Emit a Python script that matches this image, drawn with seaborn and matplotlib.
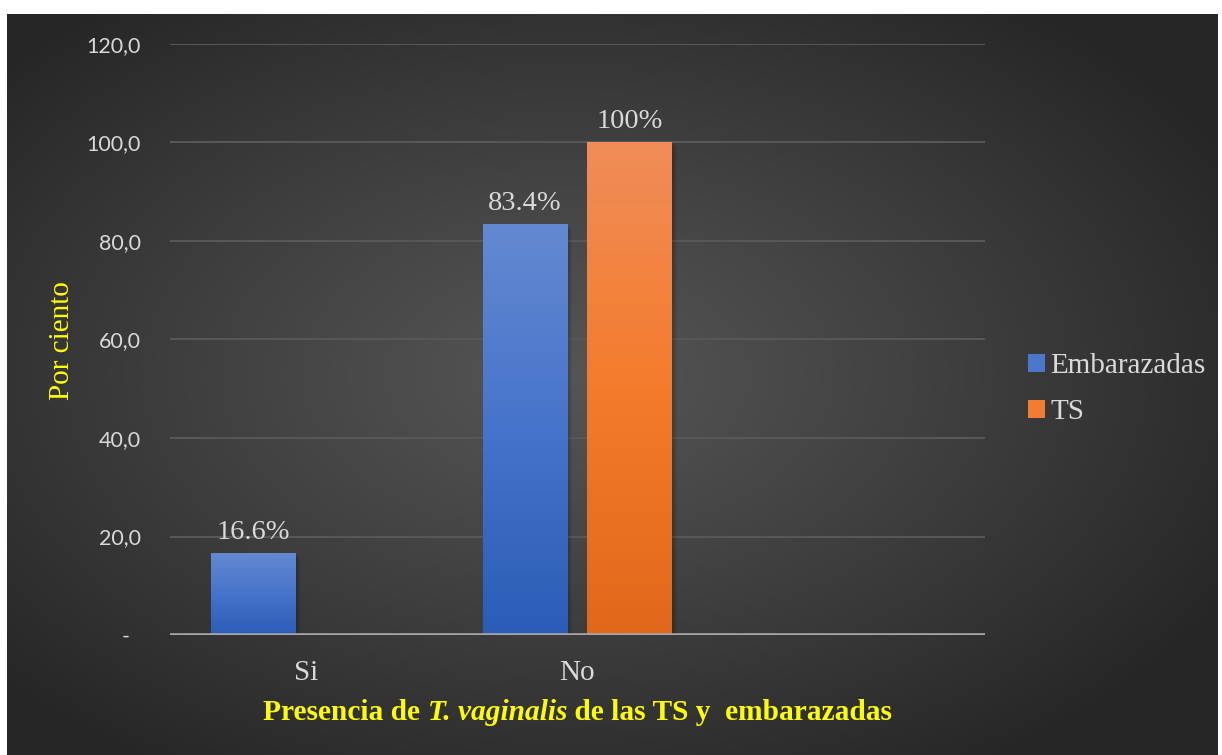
import numpy as np
import pandas as pd
import matplotlib
matplotlib.use("Agg")
import matplotlib.pyplot as plt
import seaborn as sns
from matplotlib.patches import Patch
from matplotlib.colors import LinearSegmentedColormap

# ---- data -------------------------------------------------------------
categories = ["Si", "No", ""]
groups = ["Embarazadas", "TS"]
embarazadas = [16.6, 83.4]
ts = [0.0, 100.0]
labels_embarazadas = ["16.6%", "83.4%"]
labels_ts = ["", "100%"]
yticks = [0, 20, 40, 60, 80, 100, 120]
ytick_labels = ["-  ", "20,0", "40,0", "60,0", "80,0", "100,0", "120,0"]
xlabel_parts = [("Presencia de ", "normal"), ("T. vaginalis", "italic"),
                (" de las TS y  embarazadas", "normal")]

df = pd.DataFrame({
    "presencia": categories[:2] * 2,
    "grupo": [groups[0]] * 2 + [groups[1]] * 2,
    "porcentaje": embarazadas + ts,
})

# ---- style ------------------------------------------------------------
sns.set_theme(style="white")
plt.rcParams["font.family"] = ["Liberation Serif", "DejaVu Sans"]

W, H = 1222, 755
fig = plt.figure(figsize=(W / 100, H / 100), dpi=100)
fig.patch.set_facecolor("white")

# dark radial background panel
bg = fig.add_axes([7 / W, 0, (1218 - 7) / W, (755 - 14) / H])
bg.set_axis_off()
yy, xx = np.mgrid[0:741, 0:1211]
cx, cy = 560, 360
r = np.sqrt(((xx - cx) / 760.0) ** 2 + ((yy - cy) / 470.0) ** 2)
r = np.clip(r, 0, 1)
c_in, c_out = 0x55 / 255, 0x26 / 255
shade = c_in + (c_out - c_in) * r ** 1.1
bg.imshow(np.dstack([shade] * 3), aspect="auto", extent=[0, 1, 0, 1],
          origin="upper", interpolation="bilinear")
bg.set_xlim(0, 1)
bg.set_ylim(0, 1)

# plot area
left, right, top, bottom = 170, 985, 44, 635
ax = fig.add_axes([left / W, 1 - bottom / H, (right - left) / W, (bottom - top) / H])
ax.set_facecolor("none")

blue, orange = "#4472C4", "#ED7D31"
sns.barplot(data=df, x="presencia", y="porcentaje", hue="grupo",
            order=categories, hue_order=groups, palette=[blue, orange],
            width=0.772, gap=0.19, saturation=1, errorbar=None,
            legend=False, ax=ax, zorder=3)

# vertical gradient fill for each bar
grad_cmaps = {
    0: LinearSegmentedColormap.from_list("b", ["#2c5cb6", "#4673cb", "#6389d1"]),
    1: LinearSegmentedColormap.from_list("o", ["#e2671a", "#f47b2b", "#f08d58"]),
}
ramp = np.linspace(0, 1, 256).reshape(-1, 1)
for gi, cont in enumerate(ax.containers):
    for p in cont.patches:
        x0, w, h = p.get_x(), p.get_width(), p.get_height()
        if h <= 0:
            continue
        p.set_visible(False)
        # soft shadow
        for k, a in enumerate([0.10, 0.07, 0.04]):
            dx = 0.006 * (k + 1)
            ax.fill_between([x0 + dx, x0 + w + dx], 0, h - 0.3 * (k + 1),
                            color="black", alpha=a, lw=0, zorder=2.5)
        ax.imshow(ramp, cmap=grad_cmaps[gi], origin="lower", aspect="auto",
                  extent=[x0, x0 + w, 0, h], zorder=3, interpolation="bilinear")

ax.bar_label(ax.containers[0], labels=labels_embarazadas, padding=6,
             fontsize=20.5, color="#d9d9d9")
ax.bar_label(ax.containers[1], labels=labels_ts, padding=6,
             fontsize=20.5, color="#d9d9d9")

ax.set_xlim(-0.5, 2.5)
ax.set_ylim(0, 120)
ax.set_yticks(yticks)
ax.set_yticklabels(ytick_labels, family="Lato", fontsize=15.5, color="#d9d9d9")
ax.tick_params(axis="y", length=0, pad=21)
ax.tick_params(axis="x", length=0, pad=18, labelsize=21, labelcolor="#d9d9d9")
for t in ax.get_xticklabels():
    t.set_family("Liberation Serif")

for v in yticks[1:]:
    ax.axhline(v, color="#585858", lw=1.4, zorder=1)
ax.axhline(0, color="#a6a6a6", lw=2.6, zorder=4)
for s in ax.spines.values():
    s.set_visible(False)
ax.set_xlabel("")
ax.set_ylabel("")

# x axis title: bold, with the species name in italics, centred under the axes
renderer = fig.canvas.get_renderer()
pieces = []
for txt, style in xlabel_parts:
    t = fig.text(0, 1 - 712 / H, txt, ha="left", va="center", fontsize=21.2,
                 fontweight="bold", fontstyle=style, color="#ffff00",
                 family="Liberation Serif")
    pieces.append(t)
widths = [t.get_window_extent(renderer).width for t in pieces]
x = 577.5 - sum(widths) / 2
for t, wdt in zip(pieces, widths):
    t.set_x(x / W)
    x += wdt

fig.text(62 / W, 1 - 341 / H, "Por ciento", rotation=90, ha="center",
         va="center", fontsize=21, color="#ffff00")

# legend
handles = [Patch(facecolor="#4a76cc", edgecolor="none"),
           Patch(facecolor="#f07d32", edgecolor="none")]
leg = fig.legend(handles, groups, loc="center left",
                 bbox_to_anchor=(1028 / W, 1 - 389 / H), frameon=False,
                 fontsize=21, handlelength=0.57, handleheight=0.57,
                 handletextpad=0.2, labelspacing=0.68, borderpad=0,
                 borderaxespad=0)
for t in leg.get_texts():
    t.set_color("#d9d9d9")

fig.savefig("out.png", dpi=100, facecolor=fig.get_facecolor())
